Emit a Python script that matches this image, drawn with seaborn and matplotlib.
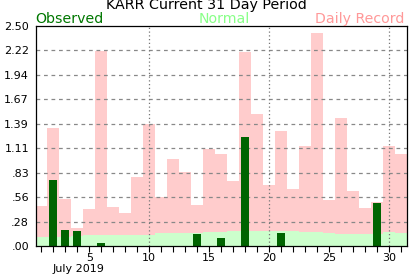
import matplotlib
matplotlib.use("Agg")
import matplotlib.pyplot as plt
import matplotlib.transforms as mtransforms
from matplotlib.ticker import MultipleLocator, FixedLocator
import seaborn as sns
import numpy as np

days = list(range(1, 32))
record = [0.45, 1.34, 0.53, 0.20, 0.42, 2.22, 0.44, 0.37, 0.78, 1.39,
          0.56, 0.99, 0.84, 0.47, 1.10, 1.05, 0.74, 2.20, 1.50, 0.69,
          1.31, 0.65, 1.14, 2.42, 0.52, 1.45, 0.62, 0.43, 0.50, 1.14, 1.05]
normal = [0.10, 0.10, 0.10, 0.11, 0.12, 0.12, 0.12, 0.12, 0.12, 0.13,
          0.145, 0.145, 0.145, 0.145, 0.16, 0.16, 0.17, 0.17, 0.17, 0.17,
          0.17, 0.17, 0.16, 0.16, 0.15, 0.14, 0.14, 0.14, 0.14, 0.16, 0.15]
observed = [0, 0.75, 0.18, 0.17, 0, 0.03, 0, 0, 0, 0,
            0, 0, 0, 0.14, 0, 0.09, 0, 1.24, 0, 0,
            0.15, 0, 0, 0, 0, 0, 0, 0, 0.49, 0, 0]
ytick_values = [0, 0.2778, 0.5556, 0.8333, 1.1111, 1.3889, 1.6667, 1.9444, 2.2222, 2.5]
ytick_labels = [".00", ".28", ".56", ".83", "1.11", "1.39", "1.67", "1.94", "2.22", "2.50"]
xtick_major = [5, 10, 15, 20, 25, 30]
vgrid_days = [10, 20, 30]
title = "KARR Current 31 Day Period"
month_label = "July 2019"

sns.set_theme(style="white")
plt.rcParams['font.family'] = ['DejaVu Sans']

fig = plt.figure(figsize=(4.17, 2.76), dpi=100)
ax = fig.add_axes([36/417, 1 - 246/276, (407 - 36)/417, 220/276])

rec_c = "#ffcccc"
norm_c = "#ccffcc"
obs_c = "#006400"

sns.barplot(x=days, y=record, native_scale=True, width=1.0, color=rec_c,
            saturation=1, linewidth=0, ax=ax, zorder=1)
sns.barplot(x=days, y=normal, native_scale=True, width=1.0, color=norm_c,
            saturation=1, linewidth=0, ax=ax, zorder=2)
sns.barplot(x=days, y=observed, native_scale=True, width=0.67, color=obs_c,
            saturation=1, linewidth=0, ax=ax, zorder=4)

ax.set_xlim(0.55, 31.5)
ax.set_ylim(0, 2.5)

# gridlines
for v in ytick_values[1:-1]:
    ax.axhline(v, color="#888888", linestyle=(0, (3, 3)), linewidth=0.9, zorder=3)
for d in vgrid_days:
    ax.axvline(d, color="#777777", linestyle=(0, (1, 2)), linewidth=0.9, zorder=3)

ax.yaxis.set_major_locator(FixedLocator(ytick_values))
ax.set_yticklabels(ytick_labels)
ax.xaxis.set_major_locator(FixedLocator(xtick_major))
ax.set_xticklabels([str(v) for v in xtick_major])
ax.xaxis.set_minor_locator(MultipleLocator(1))
ax.tick_params(axis="y", length=0, pad=5, labelsize=8, labelcolor="black")
ax.tick_params(axis="x", which="both", direction="out", length=4, width=0.8,
               color="black", bottom=True, labelsize=8, pad=1.2, labelcolor="black")
ax.set_xlabel("")
ax.set_ylabel("")

for s in ax.spines.values():
    s.set_visible(True)
    s.set_color("black")
    s.set_linewidth(0.9)
    s.set_zorder(5)

trans = mtransforms.blended_transform_factory(ax.transData, fig.transFigure)
ax.text(4.1, 1 - 268.5/276, month_label, transform=trans, ha="center", va="center",
        fontsize=8, color="black")

fig.text(206/417, 1 - 5.5/276, title, ha="center", va="center", fontsize=10.3, color="black")
fig.text(35/417, 1 - 19/276, "Observed", ha="left", va="center", fontsize=10.2, color="#007700")
fig.text(224/417, 1 - 19/276, "Normal", ha="center", va="center", fontsize=10.2, color="#88ff88")
fig.text(404/417, 1 - 19/276, "Daily Record", ha="right", va="center", fontsize=10.2, color="#ff9999")

fig.savefig("out.png", dpi=100)
